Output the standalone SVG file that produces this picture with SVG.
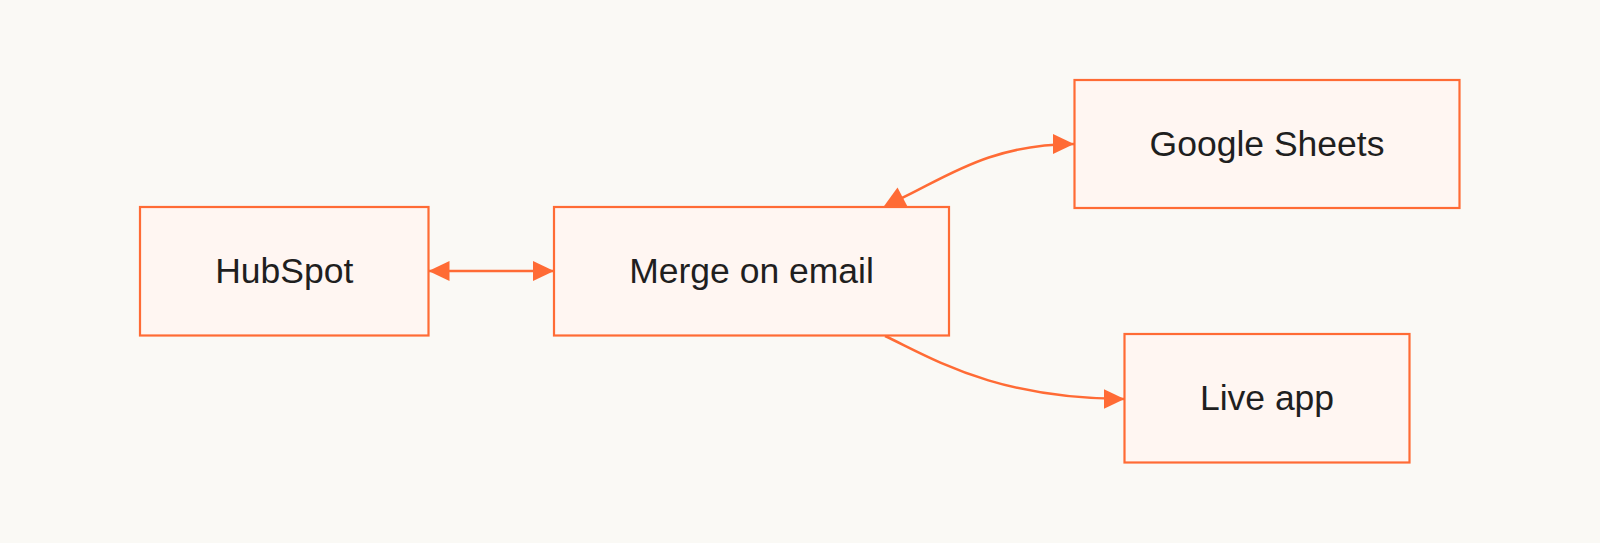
<svg xmlns="http://www.w3.org/2000/svg" width="1600" height="543" viewBox="0 0 1600 543">
<style>
.node rect{fill:#FFF6F2;stroke:#FF6B35;stroke-width:2.2}
.node text{font-family:"Liberation Sans",Arial,sans-serif;font-size:35.5px;fill:#1F1F1F;text-anchor:middle;dominant-baseline:central}
.edge{fill:none;stroke:#FF6B35;stroke-width:2.5}
.head{fill:#FF6B35}
</style>
<defs>
<marker id="arr" viewBox="0 0 21 20" refX="21" refY="10" markerWidth="21" markerHeight="20" markerUnits="userSpaceOnUse" orient="auto-start-reverse">
<path d="M0,0 L21,10 L0,20 z" fill="#FF6B35"/>
</marker>
</defs>
<rect width="1600" height="543" fill="#FAF9F5"/>
<g id="connectors">
<path class="edge" d="M428.5,271 L554,271" marker-start="url(#arr)" marker-end="url(#arr)"/>
<path class="edge" d="M900,199 C945,178 990,144 1074,144" marker-end="url(#arr)"/>
<polygon class="head" points="897.5,187.5 883,207.5 908,207.5"/>
<path class="edge" d="M885,336 C930,357 995,399 1124.5,399" marker-end="url(#arr)"/>
</g>
<g id="hubspot" class="node"><rect x="140" y="207" width="288.5" height="128.5"/><text x="284.3" y="271">HubSpot</text></g>
<g id="merge" class="node"><rect x="554" y="207" width="395" height="128.5"/><text x="751.5" y="271">Merge on email</text></g>
<g id="sheets" class="node"><rect x="1074.5" y="80" width="385" height="128"/><text x="1267" y="144">Google Sheets</text></g>
<g id="liveapp" class="node"><rect x="1124.5" y="334" width="285" height="128.5"/><text x="1267" y="398">Live app</text></g>
</svg>
